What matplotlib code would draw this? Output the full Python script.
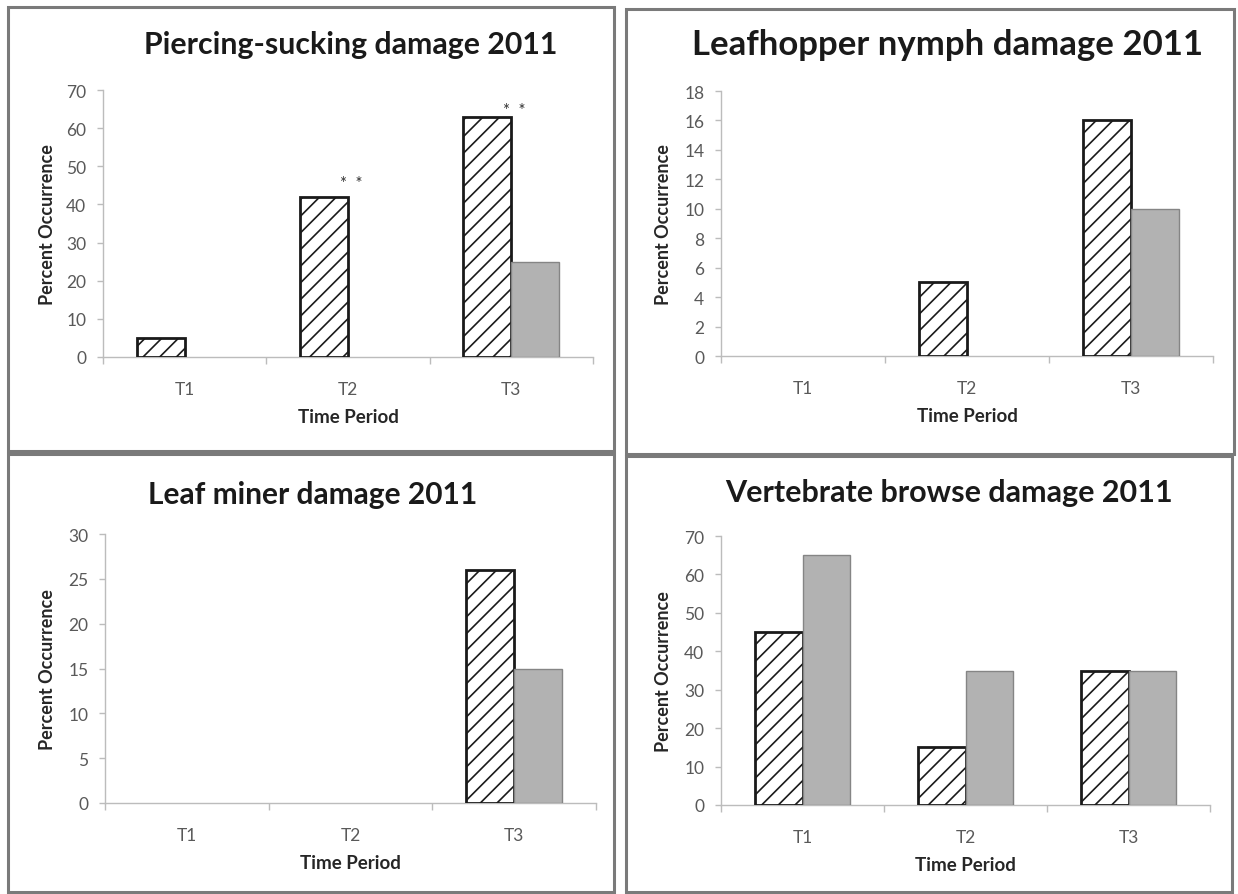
import matplotlib
matplotlib.use("Agg")
import matplotlib.pyplot as plt
from matplotlib.patches import Rectangle
import numpy as np

# dane
periods = ["T1", "T2", "T3"]

piercing_a = [5, 42, 63]
piercing_b = [0, 0, 25]
piercing_stars = [False, True, True]

leafhopper_a = [0, 5, 16]
leafhopper_b = [0, 0, 10]

miner_a = [0, 0, 26]
miner_b = [0, 0, 15]

browse_a = [45, 15, 35]
browse_b = [65, 35, 35]

titles = ["Piercing-sucking damage 2011", "Leafhopper nymph damage 2011",
          "Leaf miner damage 2011", "Vertebrate browse damage 2011"]
y_max = [70, 18, 30, 70]
y_step = [10, 2, 5, 10]

W, H = 1238, 895
FONT = "Lato"
AXIS_GREY = "#bcbcbc"
TEXT_GREY = "#595959"
BAR_GREY = "#b2b2b2"

plt.rcParams["font.family"] = [FONT, "DejaVu Sans"]
plt.rcParams["hatch.linewidth"] = 1.2
plt.rcParams["hatch.color"] = "#1a1a1a"


def fx(x):
    return x / W


def fy(y):
    return 1 - y / H


fig = plt.figure(figsize=(W / 100, H / 100), dpi=100)
fig.patch.set_facecolor("white")

# ramki paneli (px: x0, y0, x1, y1)
frames = [(8, 8, 614, 452), (626, 10, 1234, 455), (8, 455, 614, 893), (626, 457, 1232, 893)]
for x0, y0, x1, y1 in frames:
    fig.patches.append(Rectangle((fx(x0), fy(y1)), fx(x1 - x0), (y1 - y0) / H,
                                 transform=fig.transFigure, fill=False,
                                 edgecolor="#7a7a7a", linewidth=2.2))

# pozycje osi w px: left, right, top, bottom
axes_px = [(103, 593, 91, 358), (721, 1213, 92, 357), (105, 596, 535, 804), (721, 1210, 537, 806)]
title_px = [(351, 45, 21.8), (948, 45, 25), (313, 495, 21.5), (949, 493, 22)]
ylabel_x = [56, 672, 56, 672]
star_offsets = [0, 10, 5]  # pkt nad słupkiem

series = [(piercing_a, piercing_b), (leafhopper_a, leafhopper_b),
          (miner_a, miner_b), (browse_a, browse_b)]

x = np.arange(len(periods))
bw = 0.294

for i, (a_vals, b_vals) in enumerate(series):
    l, r, t, b = axes_px[i]
    ax = fig.add_axes([fx(l), fy(b), fx(r - l), (b - t) / H])

    bars_a = ax.bar(x - bw / 2, a_vals, bw, facecolor="white", edgecolor="#1a1a1a",
                    hatch="//", linewidth=2.0, zorder=3)
    bars_b = ax.bar(x + bw / 2, b_vals, bw, facecolor=BAR_GREY, edgecolor="#858585",
                    linewidth=1.0, zorder=3)
    # zerowe słupki w Excelu nie są rysowane
    for p in list(bars_a) + list(bars_b):
        if p.get_height() == 0:
            p.set_visible(False)

    ax.set_xlim(-0.5, len(periods) - 0.5)
    ax.set_ylim(0, y_max[i])
    ax.set_yticks(np.arange(0, y_max[i] + 0.1, y_step[i]))
    ax.set_xticks(x)
    ax.set_xticklabels(periods)
    ax.set_xticks(np.arange(-0.5, len(periods), 1.0), minor=True)

    for side in ["top", "right"]:
        ax.spines[side].set_visible(False)
    for side in ["left", "bottom"]:
        ax.spines[side].set_color(AXIS_GREY)
        ax.spines[side].set_linewidth(1.0)

    ax.tick_params(axis="y", direction="out", length=4, width=1.0, color=AXIS_GREY,
                   labelcolor=TEXT_GREY, labelsize=12.5, pad=8)
    ax.tick_params(axis="x", which="major", length=0, labelcolor=TEXT_GREY,
                   labelsize=12.5, pad=17)
    ax.tick_params(axis="x", which="minor", direction="out", length=5, width=1.0,
                   color=AXIS_GREY)

    ax.set_xlabel("Time Period", fontsize=13.5, fontweight="bold", color="#262626", labelpad=8)
    ax.set_ylabel("Percent Occurrence", fontsize=13, fontweight="bold", color="#262626")
    ax.yaxis.set_label_coords((ylabel_x[i] - l) / (r - l), 0.5)

    tx, ty, ts = title_px[i]
    fig.text(fx(tx), fy(ty), titles[i], ha="center", va="center", fontsize=ts,
             fontweight="bold", color="#1a1a1a")

    if i == 0:
        for k, star in enumerate(piercing_stars):
            if star:
                ax.annotate("*  *", (x[k] + 0.02, a_vals[k]), xytext=(0, star_offsets[k]),
                            textcoords="offset points", ha="center", va="center",
                            fontsize=12, color="#333333")

fig.savefig("out.png", dpi=100)
